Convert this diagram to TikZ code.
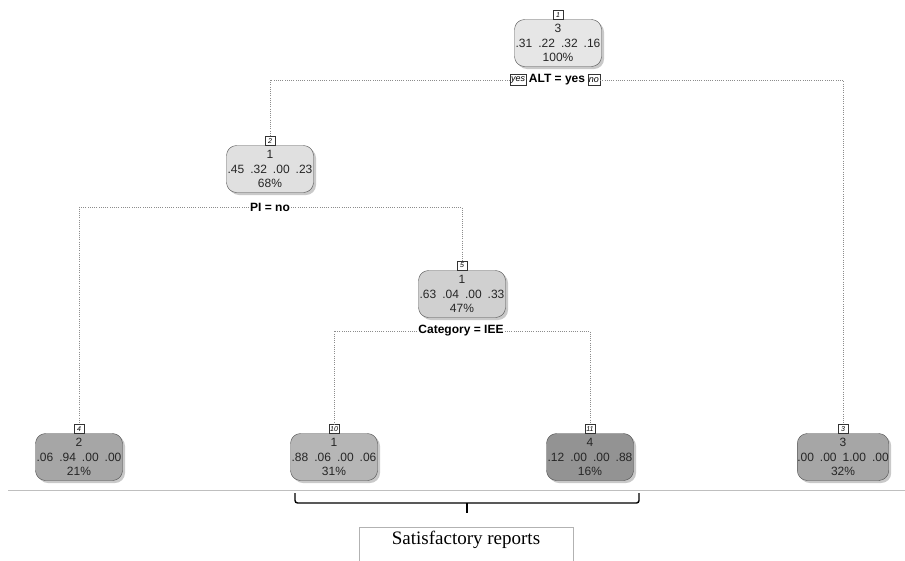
\documentclass[tikz,border=0pt]{standalone}
\usepackage{fontspec}
\setmainfont{Liberation Serif}
\newfontfamily\arialfont{Liberation Sans}
\usetikzlibrary{shadows,positioning}
\usepackage{xcolor}

\definecolor{rootfill}{HTML}{E6E6E6}
\definecolor{midfill}{HTML}{E0E0E0}
\definecolor{innerfill}{HTML}{D0D0D0}
\definecolor{leaffill}{HTML}{A6A6A6}
\definecolor{lightleaf}{HTML}{B6B6B6}
\definecolor{darkleaf}{HTML}{939393}

\newcommand{\probs}[4]{#1\enspace#2\enspace#3\enspace#4}

\begin{document}
\begin{tikzpicture} [x=1pt, y=-1pt,
    box/.style={draw=black!70, rounded corners=10pt, minimum width=87pt,
      minimum height=47pt, inner sep=0pt, align=center,
      font=\arialfont\fontsize{12}{14.5}\selectfont, text=black!85,
      drop shadow={shadow xshift=2.5pt, shadow yshift=-2.5pt, fill=black!30, opacity=0.7}},
    tag/.style={draw=black!80, fill=white, inner sep=1pt, minimum width=10pt,
      minimum height=9pt, font=\arialfont\itshape\fontsize{7}{7}\selectfont},
    split/.style={font=\arialfont\bfseries\fontsize{12}{12}\selectfont, inner sep=1pt},
    conn/.style={draw=black!45, line width=0.7pt, dash pattern=on 0.8pt off 1.4pt},
    elbow/.style={to path={-| (\tikztotarget)}}
  ]
  \useasboundingbox (0,0) rectangle (905,560);

  % nodes of the tree
  \node[box, fill=rootfill]  (n1)  at (558,43)  {3\\\probs{.31}{.22}{.32}{.16}\\100\%};
  \node[box, fill=midfill]   (n2)  at (270,169) {1\\\probs{.45}{.32}{.00}{.23}\\68\%};
  \node[box, fill=innerfill] (n5)  at (462,294) {1\\\probs{.63}{.04}{.00}{.33}\\47\%};
  \node[box, fill=leaffill]  (n4)  at (79,457)  {2\\\probs{.06}{.94}{.00}{.00}\\21\%};
  \node[box, fill=lightleaf] (n10) at (334,457) {1\\\probs{.88}{.06}{.00}{.06}\\31\%};
  \node[box, fill=darkleaf]  (n11) at (590,457) {4\\\probs{.12}{.00}{.00}{.88}\\16\%};
  \node[box, fill=leaffill]  (n3)  at (843,457) {3\\\probs{.00}{.00}{1.00}{.00}\\32\%};

  % node numbers
  \node[tag, above=0pt of n1]  (t1)  {1};
  \node[tag, above=0pt of n2]  (t2)  {2};
  \node[tag, above=0pt of n5]  (t5)  {5};
  \node[tag, above=0pt of n4]  (t4)  {4};
  \node[tag, above=0pt of n10] (t10) {10};
  \node[tag, above=0pt of n11] (t11) {11};
  \node[tag, above=0pt of n3]  (t3)  {3};

  % splits
  \node[split] (s1) at (557,80)  {ALT = yes};
  \node[tag, left=1.5pt of s1, minimum height=11pt, font=\arialfont\itshape\fontsize{9}{9}\selectfont]  (yes) {yes};
  \node[tag, right=1.5pt of s1, minimum height=11pt, font=\arialfont\itshape\fontsize{9}{9}\selectfont] (no)  {no};
  \node[split] (s2) at (270,207) {PI = no};
  \node[split] (s5) at (461,331) {Category = IEE};

  \path[conn]
  (yes.west) edge[elbow] (t2.north)
  (no.east)  edge[elbow] (t3.north)
  (s2.west)  edge[elbow] (t4.north)
  (s2.east)  edge[elbow] (t5.north)
  (s5.west)  edge[elbow] (t10.north)
  (s5.east)  edge[elbow] (t11.north)
  ;

  % baseline, brace and caption
  \draw[black!25, line width=0.8pt] (8,490) -- (905,490);
  \draw[line width=1.4pt, rounded corners=2.5pt]
  (295,493) -- (295,503) -- (639,503) -- (639,493);
  \draw[line width=1.4pt] (467,503) -- (467,513);
  \node[draw=black!30, line width=0.6pt, minimum width=214pt, minimum height=48pt,
    anchor=north, font=\fontsize{19}{22}\selectfont, text depth=30pt]
  (cap) at (466,527) {Satisfactory reports};
\end{tikzpicture}
\end{document}
